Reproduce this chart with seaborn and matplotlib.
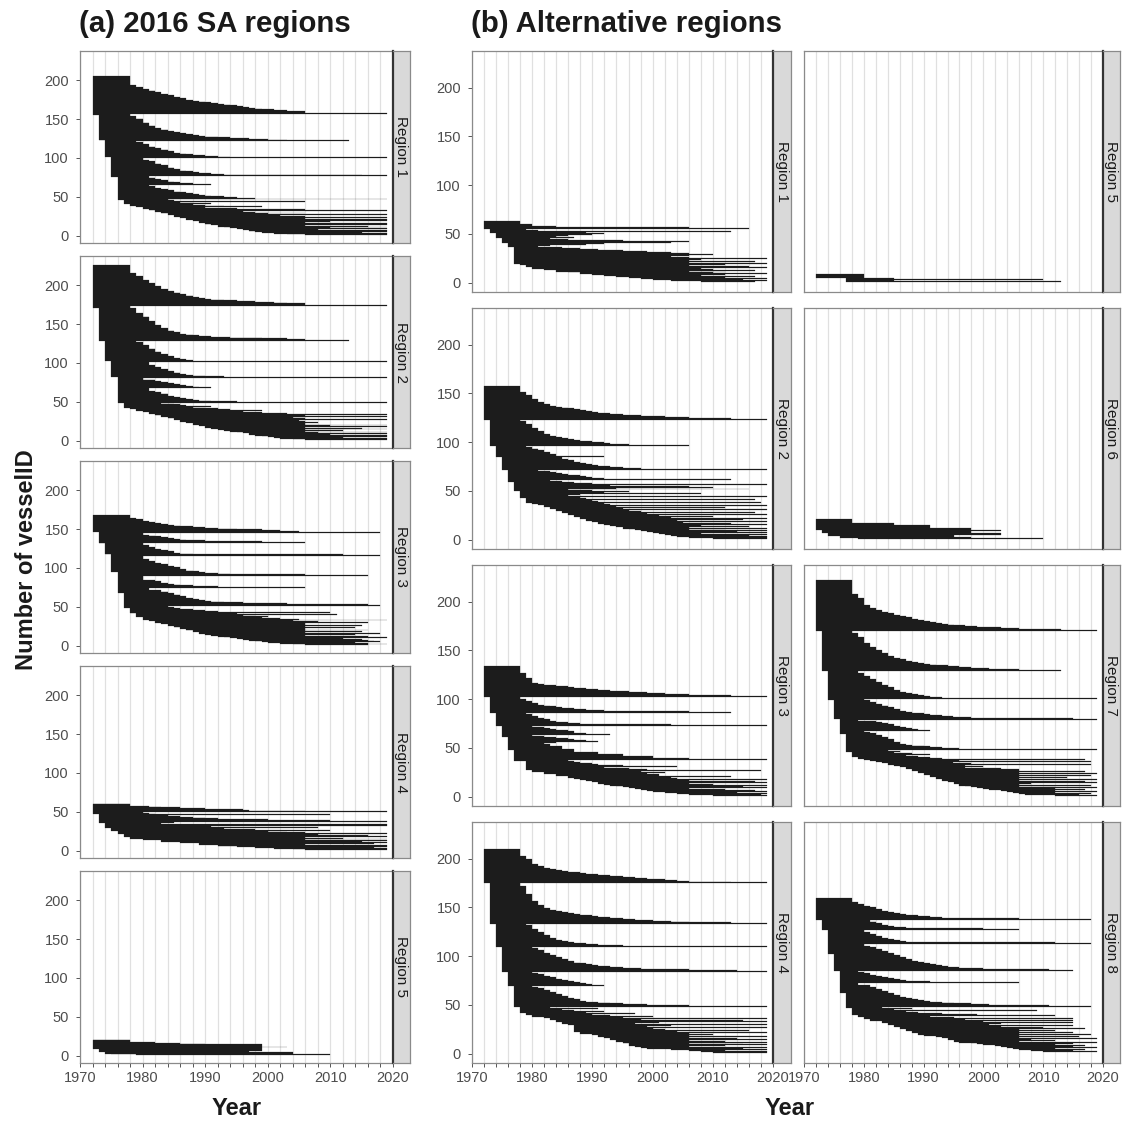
import sys
import numpy as np
import pandas as pd
import matplotlib
matplotlib.use("Agg")
import matplotlib.pyplot as plt
import seaborn as sns

# ---------------------------------------------------------------------------
# DATA: vessels are numbered from the top (highest id) downwards.
# *_START : runs (count, first year) ; *_END : runs (count, last year)
# *_END_TAIL : last year of each of the lowest vessels, one value per vessel
# ---------------------------------------------------------------------------

# (a) 2016 SA regions
A1_START = [(50, 1972), (33, 1973), (21, 1974), (26, 1975), (30, 1976), (5, 1977),
            (2, 1978), (2, 1979), (2, 1980), (2, 1981), (2, 1982), (2, 1983), (2, 1984),
            (2, 1985), (2, 1986), (2, 1987), (2, 1988), (2, 1989), (2, 1990), (1, 1991),
            (2, 1992), (1, 1993), (1, 1994), (1, 1995), (1, 1996), (2, 1997), (1, 1998),
            (1, 1999), (1, 2001), (1, 2003), (1, 2006)]
A1_END = [(12, 1978), (2, 1979), (3, 1980), (2, 1981), (2, 1982), (2, 1983), (2, 1984), (2, 1985),
          (2, 1986), (2, 1987), (1, 1988), (1, 1989), (1, 1990), (1, 1991), (1, 1992), (1, 1993),
          (1, 1994), (1, 1995), (1, 1996), (1, 1997), (1, 1998), (1, 1999), (1, 2001), (1, 2003),
          (3, 2006), (1, 2019),
          (3, 1978),
          (3, 1979), (5, 1980), (4, 1981), (3, 1982), (2, 1983), (2, 1984), (1, 1985), (2, 1986),
          (1, 1987), (1, 1988), (1, 1989), (1, 1990), (1, 1992), (1, 1994), (1, 1997), (1, 2000),
          (1, 2003), (1, 2013),
          (1, 1979),
          (3, 1980), (3, 1981), (2, 1982), (2, 1983), (2, 1984), (2, 1985), (1, 1986), (1, 1987),
          (1, 1988), (1, 1990), (1, 1992), (1, 1994), (1, 2019),
          (2, 1980),
          (2, 1981), (3, 1982), (2, 1983), (3, 1984), (2, 1985), (2, 1986), (1, 1987), (1, 1988),
          (1, 1989), (1, 1991), (1, 1993), (1, 2015), (1, 2019),
          (2, 1981),
          (2, 1982), (1, 1983), (2, 1984), (1, 1985), (1, 1986), (1, 1988), (1, 1991),
          (2, 1981),
          (2, 1982), (2, 1983), (1, 1984), (2, 1985), (1, 1986), (1, 1987), (1, 1988), (1, 1989),
          (1, 1990), (1, 1991), (1, 1993), (1, 1995), (1, 1998), (1, 2019)]
A1_END_TAIL = [1984, 1985, 2006, 1986, 1988, 1991, 1988, 1990, 1993, 1999, 1990, 1995, 2006,
               1992, 2019, 1996, 1998, 2006, 2000, 2019, 2002, 2006, 2003, 2019, 2006, 2019,
               2008, 2019, 2010, 2006, 2019, 2012, 2019, 2006, 2016, 2019, 2010, 2019, 2008,
               2019, 2012, 2019, 2015, 2019, 2019, 2019]

A2_START = [(55, 1972), (42, 1973), (26, 1974), (21, 1975), (33, 1976), (6, 1977),
            (2, 1978), (2, 1979), (2, 1980), (2, 1981), (2, 1982), (2, 1983), (2, 1984),
            (2, 1985), (2, 1986), (2, 1987), (2, 1988), (2, 1989), (2, 1990), (1, 1991),
            (2, 1992), (1, 1993), (1, 1994), (1, 1995), (1, 1996), (2, 1997), (1, 1998),
            (1, 1999), (1, 2000), (1, 2001), (1, 2002), (1, 2004), (1, 2006)]
A2_END = [(10, 1978), (4, 1979), (5, 1980), (4, 1981), (4, 1982), (4, 1983), (2, 1984), (2, 1985),
          (2, 1986), (2, 1987), (2, 1988), (1, 1989), (1, 1990), (1, 1991), (1, 1993), (1, 1995),
          (1, 1998), (1, 2001), (1, 2003), (2, 2006), (1, 2019),
          (3, 1978),
          (6, 1979), (5, 1980), (6, 1981), (5, 1982), (4, 1983), (3, 1984), (2, 1985), (2, 1986),
          (1, 1987), (1, 1988), (1, 1989), (1, 1991), (1, 1994), (1, 1999), (1, 2003), (1, 2006),
          (1, 2013),
          (2, 1979),
          (4, 1980), (4, 1981), (4, 1982), (3, 1983), (3, 1984), (2, 1985), (2, 1986), (1, 1987),
          (1, 1988), (1, 2019),
          (1, 1980),
          (3, 1981), (3, 1982), (3, 1983), (2, 1984), (2, 1985), (2, 1986), (1, 1987), (1, 1988),
          (1, 1990), (1, 1993), (1, 2019),
          (2, 1980),
          (2, 1982), (1, 1983), (2, 1984), (1, 1985), (1, 1986), (1, 1987), (1, 1988), (1, 1989),
          (1, 1991),
          (4, 1981),
          (1, 1982), (2, 1983), (3, 1984), (2, 1985), (1, 1986), (1, 1987), (1, 1988), (1, 1989),
          (1, 1991), (1, 1995), (1, 2019)]
A2_END_TAIL = [1983, 1985, 1986, 1987, 1991, 1988, 1990, 1992, 1994, 1999, 1995, 1996, 1999,
               2003, 2019, 2002, 2006, 2019, 2004, 2006, 2006, 2019, 2005, 2006, 2006, 2008,
               2006, 2006, 2019, 2010, 2019, 2006, 2015, 2019, 2006, 2012, 2006, 2019, 2008,
               2019, 2010, 2019, 2016, 2019, 2012, 2019, 2019, 2019]

A3_START = [(21, 1972), (15, 1973), (14, 1974), (23, 1975), (27, 1976), (19, 1977),
            (7, 1978), (5, 1979), (3, 1980), (2, 1981), (2, 1982), (2, 1983), (2, 1984),
            (2, 1985), (2, 1986), (2, 1987), (2, 1988), (2, 1989), (2, 1990), (1, 1991),
            (1, 1992), (1, 1993), (1, 1994), (1, 1995), (1, 1996), (1, 1997), (1, 1998),
            (1, 1999), (1, 2000), (1, 2002), (1, 2004), (1, 2006)]
A3_END = [(3, 1978), (2, 1979), (2, 1980), (2, 1981), (1, 1982), (1, 1983), (1, 1984), (1, 1985),
          (1, 1986), (1, 1988), (1, 1990), (1, 1992), (1, 1995), (1, 1999), (1, 2002), (1, 2005),
          (1, 2018),
          (1, 1979), (2, 1980), (1, 1981), (1, 1982), (1, 1983), (1, 1984), (1, 1985), (1, 1986),
          (1, 1987), (1, 1990), (1, 1999), (1, 2006),
          (3, 1980), (3, 1981), (2, 1982), (2, 1983), (1, 1984), (2, 1985), (1, 1986), (1, 1988),
          (1, 2012), (1, 2018),
          (4, 1980),
          (3, 1981), (2, 1982), (2, 1983), (2, 1984), (2, 1985), (2, 1986), (2, 1987), (1, 1988),
          (1, 1989), (1, 1990), (1, 1992), (1, 1994), (1, 2006), (1, 2016),
          (5, 1980),
          (2, 1982), (2, 1983), (1, 1984), (1, 1985), (1, 1986), (1, 1988), (1, 1992), (1, 2006),
          (3, 1981),
          (2, 1983), (2, 1984), (2, 1985), (2, 1986), (2, 1987), (2, 1988), (1, 1989), (1, 1990),
          (1, 1991), (1, 1993), (1, 1996), (1, 2003), (1, 2016), (1, 2018)]
A3_END_TAIL = [1982, 1984, 1985, 1986, 1985, 1988, 1990, 1992, 2010, 1993, 1995, 2011, 1996,
               1998, 2000, 1999, 2002, 2005, 2019, 2004, 2008, 2016, 2006, 2006, 2006, 2015,
               2006, 2006, 2014, 2006, 2006, 2016, 2006, 2015, 2006, 2018, 2007, 2014, 2006,
               2016, 2010, 2019, 2012, 2015, 2016, 2017, 2018, 2014, 2016, 2019, 2016]

A4_START = [(13, 1972), (12, 1973), (6, 1974), (4, 1975), (4, 1976), (4, 1977), (2, 1978),
            (2, 1980), (2, 1983), (2, 1986), (2, 1989), (2, 1992), (1, 1995), (1, 1998),
            (1, 2001), (1, 2004), (1, 2006)]
A4_END = [(3, 1978)]
A4_END_TAIL = [1981, 1983, 1986, 1990, 1996, 1997, 2006, 2019, 1980, 1981, 1982, 2010, 1984,
               1986, 1988, 1990, 1992, 2000, 2010, 1995, 2019, 1985, 1983, 2019, 1998, 2019,
               1991, 2008, 1986, 1993, 1998, 2010, 2000, 2003, 2006, 2019, 2008, 2006, 2016,
               2019, 2006, 2012, 2019, 2006, 2019, 2015, 2006, 2019, 2017, 2006, 2019, 2014,
               2019, 2017, 2019, 2018, 2019]

A5_START = [(12, 1972), (4, 1973), (2, 1974), (1, 1975), (1, 1979)]
A5_END = [(3, 1978), (1, 1982), (1, 1986), (1, 1990), (3, 1999), (1, 2003), (1, 1999),
          (3, 1999), (2, 1997), (3, 2004), (1, 2010)]
A5_END_TAIL = []

# (b) Alternative regions
B1_START = [(8, 1972), (5, 1973), (5, 1974), (5, 1975), (4, 1976), (17, 1977), (1, 1978),
            (2, 1979), (2, 1980), (1, 1982), (2, 1984), (1, 1986), (2, 1988), (1, 1990),
            (1, 1992), (1, 1994), (1, 1996), (1, 1998), (1, 2000), (1, 2003), (1, 2008)]
B1_END = [(3, 1978), (2, 1980), (1, 1984), (1, 2006), (1, 2016)]
B1_END_TAIL = [1979, 1981, 2013, 1985, 1989, 1992, 1990, 1986, 1984, 1987, 1983, 1986, 1995,
               2006, 2003, 1992, 1989, 1983, 1981, 1985, 1988, 1991, 1995, 1999, 2003, 2006,
               2010, 2006, 2003, 2006, 2019, 2008, 2006, 2017, 2006, 2019, 2012, 2006, 2016,
               2019, 2008, 2010, 2017, 2006, 2012, 2010, 2019, 2012, 2008, 2017, 2012, 2019,
               2015, 2019, 2017]

B2_START = [(35, 1972), (26, 1973), (12, 1974), (13, 1975), (12, 1976), (10, 1977), (7, 1978),
            (5, 1979), (1, 1980), (1, 1981), (2, 1982), (2, 1983), (2, 1984), (2, 1985),
            (2, 1986), (2, 1987), (2, 1988), (2, 1989), (1, 1990), (2, 1991), (1, 1992),
            (1, 1993), (1, 1994), (2, 1995), (1, 1996), (1, 1997), (1, 1998), (1, 1999),
            (1, 2000), (1, 2001), (1, 2002), (1, 2003), (1, 2004), (1, 2006), (1, 2010)]
B2_END = [(6, 1978), (3, 1979), (4, 1980), (3, 1981), (2, 1982), (2, 1983), (1, 1984), (1, 1985),
          (1, 1986), (1, 1987), (1, 1988), (1, 1989), (1, 1990), (1, 1991), (1, 1993), (1, 1995),
          (1, 1998), (1, 2002), (1, 2006), (1, 2013), (1, 2019),
          (1, 1978), (3, 1979), (4, 1980), (3, 1981), (3, 1982), (2, 1983), (1, 1984), (1, 1985),
          (1, 1986), (1, 1987), (1, 1988), (1, 1990), (1, 1992), (1, 1993), (1, 1996), (1, 2006),
          (1, 1979), (2, 1980), (2, 1981), (2, 1982), (2, 1983), (2, 1984), (1, 1992), (2, 1985),
          (1, 1986), (2, 1987), (1, 1988), (1, 1989), (1, 1990), (1, 1991), (1, 1993), (1, 1995),
          (1, 1998)]
B2_END_TAIL = [2019, 1981, 1983, 1984, 1985, 1986, 1988, 1989, 1990, 1992, 2013, 1983, 1985,
               1987, 1990, 2019, 1993, 2006, 2010, 1994, 2016, 1986, 1990, 1996,
               1992, 2008, 1988, 1986, 2019, 1988, 1989, 2017, 1990, 1991, 2018, 1992, 1993,
               2019, 1994, 2012, 1995, 2019, 1996, 1998, 2017, 1999, 2019, 2001, 2010, 2003,
               2019, 2015, 2004, 2019, 2005,
               2013, 2019, 2008, 2016, 2006, 2019, 2012, 2006, 2019, 2014, 2019, 2008, 2019,
               2016, 2019, 2019, 2019]

B3_START = [(31, 1972), (17, 1973), (13, 1974), (11, 1975), (14, 1976), (11, 1977), (9, 1979),
            (2, 1980), (2, 1982), (2, 1984), (2, 1986), (1, 1987), (1, 1988), (1, 1989),
            (1, 1990), (2, 1991), (1, 1992), (1, 1993), (1, 1994), (1, 1995), (1, 1996),
            (1, 1997), (1, 1998), (1, 1999), (1, 2000), (1, 2002), (1, 2004), (1, 2006),
            (1, 2010)]
B3_END = [(7, 1978), (5, 1979), (5, 1980), (1, 1981), (1, 1982), (1, 1984), (1, 1986), (1, 1987),
          (1, 1989), (1, 1991), (1, 1993), (1, 1996), (1, 1999), (1, 2002), (1, 2006), (1, 2013),
          (1, 2019),
          (2, 1978), (2, 1979), (2, 1980), (2, 1981), (1, 1982), (1, 1983), (1, 1984), (1, 1985),
          (1, 1987), (1, 1989), (1, 1992), (1, 2006), (1, 2013),
          (1, 1979), (2, 1980), (2, 1981), (1, 1982), (2, 1983), (1, 1984), (1, 1986), (1, 1988),
          (1, 2003), (1, 2019)]
B3_END_TAIL = [1980, 1982, 1983, 1984, 1986, 1987, 1987, 1989, 1993, 1980, 1982, 1984, 1986,
               1987, 1989, 1991, 1984, 1982,
               1983, 1983, 1983, 1985, 1985, 1985, 1987, 1987, 1987, 1991, 1991, 1995, 1995,
               2000, 2000, 2006, 2019,
               1986, 1987, 1988, 1990, 1991, 1995, 2004, 1992, 1996, 1999, 2018, 1998, 2002,
               1999, 2001, 2001, 2013, 2003, 2004, 2019, 2006, 2017, 2019, 2006, 2010, 2019,
               2006, 2015, 2019, 2006, 2012, 2017, 2019, 2014, 2019, 2018, 2019]

B4_START = [(35, 1972), (42, 1973), (23, 1974), (26, 1975), (14, 1976), (22, 1977), (6, 1978),
            (2, 1979), (2, 1980), (1, 1982), (2, 1983), (2, 1984), (2, 1985), (1, 1986),
            (7, 1987), (2, 1988), (1, 1990), (2, 1991), (1, 1992), (2, 1993), (2, 1994),
            (2, 1995), (3, 1996), (1, 1997), (1, 1998), (1, 1999), (1, 2003), (1, 2006),
            (1, 2008), (1, 2010)]
B4_END = [(7, 1978), (3, 1979), (5, 1980), (2, 1981), (2, 1982), (1, 1983), (1, 1984), (1, 1985),
          (1, 1986), (1, 1988), (1, 1989), (1, 1991), (1, 1993), (1, 1995), (1, 1997), (1, 1999),
          (1, 2002), (1, 2004), (1, 2006), (1, 2013), (1, 2019),
          (3, 1978), (8, 1979), (7, 1980), (4, 1981), (3, 1982), (2, 1983), (1, 1984), (1, 1985),
          (1, 1986), (1, 1987), (1, 1988), (1, 1990), (1, 1991), (1, 1993), (1, 1995), (1, 1997),
          (1, 2000), (1, 2003), (1, 2006), (1, 2013), (1, 2019),
          (1, 1979), (4, 1980), (3, 1981), (3, 1982), (3, 1983), (2, 1984), (1, 1985), (1, 1986),
          (1, 1987), (1, 1989), (1, 1991), (1, 1995), (1, 2019),
          (1, 1980), (2, 1981), (3, 1982), (2, 1983), (2, 1984), (2, 1985), (2, 1986), (2, 1987),
          (1, 1988), (1, 1989), (1, 1990), (1, 1991), (1, 1993), (1, 1995), (1, 1998), (1, 2006),
          (1, 2014), (1, 2019),
          (1, 1980), (1, 1981), (2, 1982), (1, 1983), (2, 1984), (1, 1985), (1, 1986), (1, 1987),
          (1, 1988), (1, 1989), (1, 1990), (1, 1992),
          (1, 1980), (1, 1981), (2, 1982), (2, 1983), (2, 1984), (2, 1985), (2, 1986), (1, 1987),
          (2, 1988), (1, 1989), (1, 1991), (1, 1993), (1, 1995), (1, 1999), (1, 2006), (1, 2019)]
B4_END_TAIL = [1983, 1991, 1985, 1987, 1992, 1989, 1997, 1990, 1993, 2000, 1995, 2019, 1998,
               2015, 2019, 2001, 1997, 2019, 2003, 1999, 2019, 2000, 2002, 2016, 2004, 2019,
               2006, 2010, 2006, 2019, 2006, 2014, 2019, 2006, 2012, 2019, 2015, 2006, 2019,
               2012, 2006, 2019, 2015, 2019, 2012, 2019, 2019]

B5_START = [(4, 1972), (4, 1977)]
B5_END = [(4, 1980), (1, 1985), (1, 2010), (1, 1985), (1, 2013)]
B5_END_TAIL = []

B6_START = [(12, 1972), (3, 1973), (3, 1974), (2, 1976), (1, 1979)]
B6_END = [(4, 1978), (2, 1985), (3, 1991), (3, 1998), (1, 2003), (2, 1998), (2, 2003),
          (2, 1995), (1, 1998), (1, 2010)]
B6_END_TAIL = []

B7_START = [(53, 1972), (41, 1973), (29, 1974), (20, 1975), (15, 1976), (19, 1977), (5, 1978),
            (2, 1979), (1, 1980), (1, 1981), (1, 1982), (1, 1983), (2, 1984), (1, 1985),
            (1, 1986), (2, 1987), (2, 1988), (2, 1989), (2, 1990), (2, 1991), (2, 1992),
            (2, 1993), (1, 1994), (2, 1995), (2, 1996), (1, 1997), (1, 1998), (1, 1999),
            (1, 2000), (1, 2001), (1, 2003), (1, 2004), (1, 2005), (1, 2006), (1, 2007),
            (1, 2012)]
B7_END = [(15, 1978), (4, 1979), (7, 1980), (3, 1981), (2, 1982), (2, 1983), (1, 1984), (2, 1985),
          (1, 1986), (1, 1987), (2, 1988), (1, 1989), (1, 1990), (1, 1991), (1, 1992), (1, 1993),
          (1, 1994), (1, 1995), (1, 1997), (1, 1999), (1, 2003), (1, 2006), (1, 2013), (1, 2019),
          (2, 1978), (4, 1979), (6, 1980), (4, 1981), (3, 1982), (3, 1983), (3, 1984), (2, 1985),
          (1, 1986), (2, 1987), (1, 1988), (1, 1989), (1, 1990), (1, 1991), (1, 1992), (1, 1994),
          (1, 1996), (1, 1998), (1, 2001), (1, 2006), (1, 2013),
          (2, 1979), (3, 1980), (3, 1981), (3, 1982), (3, 1983), (2, 1984), (3, 1985), (2, 1986),
          (1, 1987), (1, 1988), (1, 1989), (1, 1990), (1, 1991), (1, 1993), (1, 2019),
          (1, 1980), (2, 1981), (2, 1982), (2, 1983), (2, 1984), (2, 1985), (2, 1986), (1, 1987),
          (1, 1988), (1, 1990), (1, 1991), (1, 1993), (1, 1995), (1, 1998), (1, 2015), (1, 2019),
          (1, 1979), (1, 1982), (1, 1983), (1, 1984), (2, 1985), (1, 1986), (1, 1987), (1, 1988),
          (1, 1989), (1, 1991),
          (1, 1980), (1, 1981), (2, 1982), (2, 1983), (2, 1984), (3, 1985), (2, 1986), (1, 1987),
          (1, 1988), (1, 1990), (1, 1991), (1, 1993), (1, 1996), (1, 2019)]
B7_END_TAIL = [1984, 1986, 1985, 1988, 1991, 1987, 1989, 1991, 1993, 2017, 1996, 2018, 1995,
               1998, 2018, 1997, 2000, 1997, 2003, 2006, 2006, 2017, 2006, 2019, 2006, 2018,
               2006, 2014, 2006, 2019, 2006, 2017, 2019, 2008, 2006, 2018, 2012, 2006, 2019,
               2012, 2017, 2012, 2019, 2012, 2018, 2016, 2019]

B8_START = [(22, 1972), (11, 1973), (24, 1974), (18, 1975), (22, 1976), (16, 1977), (7, 1978),
            (2, 1979), (2, 1980), (2, 1981), (2, 1983), (2, 1984), (2, 1985), (2, 1986),
            (2, 1987), (2, 1988), (2, 1989), (1, 1990), (1, 1992), (1, 1993), (2, 1994),
            (2, 1995), (1, 1996), (1, 1998), (1, 1999), (1, 2000), (1, 2002), (1, 2003),
            (1, 2004), (1, 2005), (1, 2006), (1, 2008), (1, 2010), (1, 2012)]
B8_END = [(4, 1978), (2, 1979), (2, 1980), (1, 1981), (2, 1982), (2, 1983), (1, 1984), (1, 1985),
          (1, 1986), (1, 1987), (1, 1989), (1, 1991), (1, 1993), (1, 2006), (1, 2018),
          (2, 1981), (2, 1982), (2, 1983), (1, 1984), (1, 1985), (1, 1987), (1, 2000), (1, 2006),
          (2, 1980), (2, 1981), (2, 1982), (2, 1983), (1, 1984), (1, 1985), (1, 1986), (1, 1987),
          (1, 2012), (1, 2018), (2, 1980), (1, 1981), (2, 1982), (2, 1983), (2, 1984), (1, 1985),
          (1, 1985), (2, 1986), (2, 1987), (2, 1988), (1, 1989), (2, 1990), (1, 1991), (1, 1992),
          (1, 1993), (1, 1994), (1, 1996), (1, 2000), (1, 2011), (1, 2015),
          (1, 1979), (1, 1980), (2, 1981), (1, 1982), (1, 1983), (1, 1984), (1, 1985), (1, 1986),
          (1, 1987), (1, 1991), (1, 2006), (2, 1979), (2, 1981), (2, 1982), (2, 1983), (1, 1984),
          (1, 1984), (2, 1985), (2, 1986), (1, 1987), (1, 1988), (1, 1989), (1, 1990), (1, 1991),
          (1, 1993), (1, 1995), (1, 1998), (1, 2001), (1, 2011), (1, 2018)]
B8_END_TAIL = [1983, 1988, 1985, 2009, 1987, 1989, 1993, 1999, 2012, 1991, 1995, 2015, 1997,
               2015, 2000, 2015, 2003, 2001, 2015, 2003, 2010, 2017, 2006, 2012, 2006, 2015,
               2006, 2018, 2006, 2016, 2006, 2019, 2008, 2012, 2006, 2019, 2010, 2015, 2012,
               2017, 2015, 2019, 2012, 2017, 2015, 2019]

TITLE_A = "(a) 2016 SA regions"
TITLE_B = "(b) Alternative regions"
Y_LABEL = "Number of vesselID"
X_LABEL = "Year"
YEAR_TICKS = list(range(1970, 2021, 2))
DECADES = [1970, 1980, 1990, 2000, 2010, 2020]
Y_TICKS = [0, 50, 100, 150, 200]

# ---------------------------------------------------------------------------
sns.set_theme(style="white")
plt.rcParams['font.family'] = ['Liberation Sans', 'DejaVu Sans']

BAR = '#1c1c1c'
W, H = 1125, 1122
fig = plt.figure(figsize=(W / 100, H / 100), dpi=100)


def expand(runs):
    out = []
    for n, v in runs:
        out += [v] * n
    return out


def vessels(start_runs, end_runs, end_tail):
    s = expand(start_runs)
    e = expand(end_runs) + list(end_tail)
    if len(s) != len(e):
        print("length mismatch", len(s), len(e), file=sys.stderr)
    n = min(len(s), len(e))
    ids = np.arange(len(s), 0, -1)[:n]
    return pd.DataFrame({"vessel": ids, "start": s[:n], "end": e[:n]})


def add_ax(x0, y0, x1, y1):
    return fig.add_axes([x0 / W, 1 - y1 / H, (x1 - x0) / W, (y1 - y0) / H])


def panel(x0, y0, x1, y1, sx1, label, data, show_x, show_y):
    ax = add_ax(x0, y0, x1, y1)
    df = vessels(*data)
    ax.barh(df["vessel"], df["end"] - df["start"], left=df["start"], height=1.0,
            color=BAR, edgecolor=BAR, linewidth=0.15, zorder=2)
    ax.set_xlim(1970, 2020)
    ax.set_ylim(-9.5, 237.5)
    ax.set_xticks(YEAR_TICKS)
    ax.set_xticklabels([str(t) if (t in DECADES and show_x) else "" for t in YEAR_TICKS])
    ax.set_yticks(Y_TICKS)
    ax.set_yticklabels([str(t) for t in Y_TICKS] if show_y else [])
    ax.xaxis.grid(True, color='#e0e0e0', linewidth=0.9, zorder=0)
    ax.yaxis.grid(False)
    ax.set_axisbelow(True)
    ax.tick_params(axis='both', which='major', length=3, width=0.7, color='#555555',
                   labelsize=10.5, labelcolor='#4d4d4d', bottom=True, left=True)
    ax.tick_params(axis='y', pad=5)
    ax.tick_params(axis='x', pad=3)
    if not show_x:
        ax.tick_params(axis='x', length=0)
    if not show_y:
        ax.tick_params(axis='y', length=0)
    for sp in ax.spines.values():
        sp.set_color('#8a8a8a')
        sp.set_linewidth(0.9)
    # strip on the right
    sax = add_ax(x1, y0, sx1, y1)
    sax.set_facecolor('#d9d9d9')
    sax.set_xticks([])
    sax.set_yticks([])
    for k, sp in sax.spines.items():
        sp.set_color('#8a8a8a')
        sp.set_linewidth(0.9)
    sax.spines['left'].set_color('#333333')
    sax.spines['left'].set_linewidth(1.6)
    sax.text(0.5, 0.5, label, rotation=270, ha='center', va='center',
             fontsize=11, color='#1a1a1a', transform=sax.transAxes)
    return ax


# (a) column
A_DATA = [("Region 1", (A1_START, A1_END, A1_END_TAIL)),
          ("Region 2", (A2_START, A2_END, A2_END_TAIL)),
          ("Region 3", (A3_START, A3_END, A3_END_TAIL)),
          ("Region 4", (A4_START, A4_END, A4_END_TAIL)),
          ("Region 5", (A5_START, A5_END, A5_END_TAIL))]
a_top, a_h, a_gap = 51, 192, 13
for i, (lab, dat) in enumerate(A_DATA):
    t = a_top + i * (a_h + a_gap)
    panel(80, t, 393, t + a_h, 410, lab, dat, show_x=(i == 4), show_y=True)

# (b) two columns
B_DATA = [[("Region 1", (B1_START, B1_END, B1_END_TAIL)),
           ("Region 2", (B2_START, B2_END, B2_END_TAIL)),
           ("Region 3", (B3_START, B3_END, B3_END_TAIL)),
           ("Region 4", (B4_START, B4_END, B4_END_TAIL))],
          [("Region 5", (B5_START, B5_END, B5_END_TAIL)),
           ("Region 6", (B6_START, B6_END, B6_END_TAIL)),
           ("Region 7", (B7_START, B7_END, B7_END_TAIL)),
           ("Region 8", (B8_START, B8_END, B8_END_TAIL))]]
b_cols = [(472, 773, 791), (804, 1103, 1120)]
b_top, b_h, b_gap = 51, 241, 16
for c, col in enumerate(B_DATA):
    x0, x1, sx1 = b_cols[c]
    for r, (lab, dat) in enumerate(col):
        t = b_top + r * (b_h + b_gap)
        panel(x0, t, x1, t + b_h, sx1, lab, dat, show_x=(r == 3), show_y=(c == 0))

# titles and axis labels
fig.text(79 / W, 1 - 32.5 / H, TITLE_A, fontsize=21.2, fontweight='bold',
         ha='left', va='baseline', color='#1a1a1a')
fig.text(471 / W, 1 - 32.5 / H, TITLE_B, fontsize=21.2, fontweight='bold',
         ha='left', va='baseline', color='#1a1a1a')
fig.text(27 / W, 1 - 560 / H, Y_LABEL, fontsize=17, fontweight='bold', rotation=90,
         ha='center', va='center', color='#1a1a1a')
fig.text(237 / W, 1 - 1115 / H, X_LABEL, fontsize=17, fontweight='bold',
         ha='center', va='baseline', color='#1a1a1a')
fig.text(790 / W, 1 - 1115 / H, X_LABEL, fontsize=17, fontweight='bold',
         ha='center', va='baseline', color='#1a1a1a')

fig.savefig("out.png", dpi=100, facecolor='white')
